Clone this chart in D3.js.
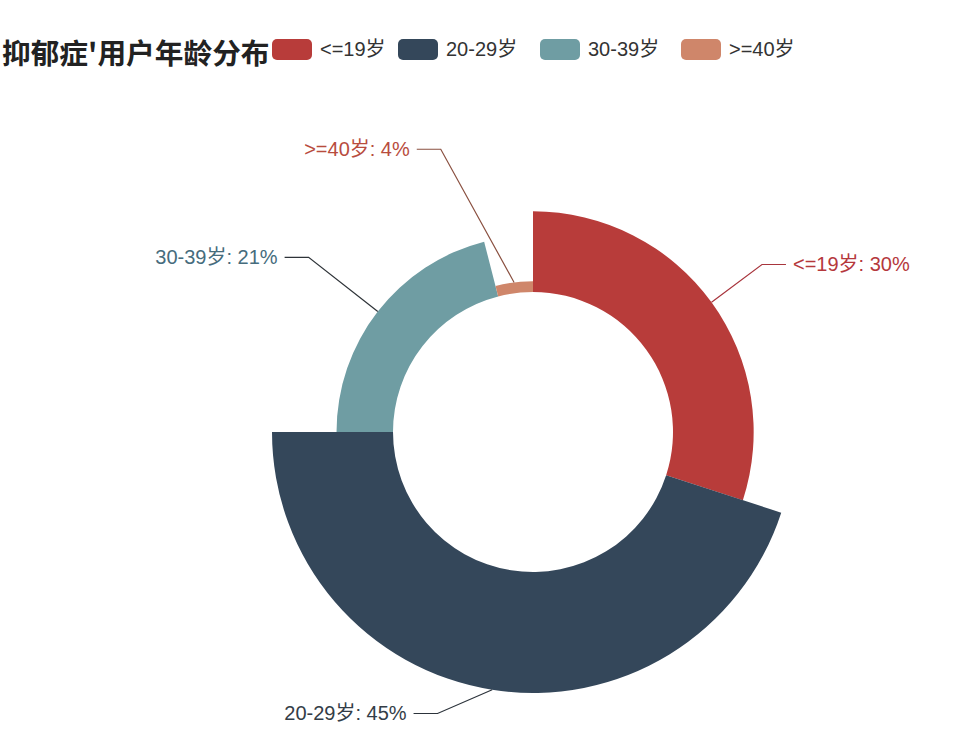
<!DOCTYPE html>
<html>
<head>
<meta charset="utf-8">
<script src="https://cdn.jsdelivr.net/npm/d3@7"></script>
<style>
  body { margin: 0; background: #fff; }
  text { font-family: "Liberation Sans", "Noto Sans CJK SC", sans-serif; }
</style>
</head>
<body>
<div id="chart"></div>
<script>
var w = 980,
	h = 740;

var title = "抑郁症'用户年龄分布";
var categories = ["<=19岁", "20-29岁", "30-39岁", ">=40岁"];
var values = [30, 45, 21, 4];
var colors = ["#b83c3a", "#34475a", "#6f9da3", "#cf866a"];
var labelColors = ["#b5383c", "#333d47", "#466c7d", "#b84c3e"];
var lineColors = ["#a8353d", "#2c333b", "#2e3338", "#8a5040"];

var cx = 533, cy = 432, r0 = 140, r1 = 261;

var svg = d3.select("#chart").append("svg").attr("width", w).attr("height", h);

// title
svg.append("text").attr("x", 2).attr("y", 64)
	.style("font-family", "'Noto Sans CJK SC', sans-serif")
	.style("font-size", "28.7px").style("font-weight", "bold").style("fill", "#222")
	.text(title);

// legend
var legendX = [272, 398, 540, 681];
var legend = svg.selectAll("g.legend").data(categories).enter().append("g")
	.attr("class", "legend")
	.attr("transform", function(d, i) { return "translate(" + legendX[i] + ",39)"; });
legend.append("rect").attr("width", 40).attr("height", 21).attr("rx", 5).attr("ry", 5)
	.style("fill", function(d, i) { return colors[i]; });
legend.append("text").attr("x", 48).attr("y", 17)
	.style("font-size", "20px").style("fill", "#333")
	.text(function(d) { return d; });

// rose pie
var total = d3.sum(values);
var pie = d3.pie().sort(null).value(function(d) { return d; });
var arcs = pie(values);
var rScale = d3.scaleLinear().domain([0, d3.max(values)]).range([r0, r1]);
var arc = d3.arc().innerRadius(r0).outerRadius(function(d) { return rScale(d.data); });

var g = svg.append("g").attr("transform", "translate(" + cx + "," + cy + ")");
g.selectAll("path.slice").data(arcs).enter().append("path")
	.attr("class", "slice")
	.attr("d", arc)
	.style("fill", function(d, i) { return colors[i]; });

// labels
var lineR = 285, RA = 276, RB = 300, len2 = 24;
arcs.forEach(function(d, i) {
	var a = (d.startAngle + d.endAngle) / 2;
	var r = rScale(d.data);
	var sx = Math.sin(a), sy = -Math.cos(a);
	var p0 = [sx * r, sy * r];
	var ey = sy * lineR;
	var ex = (sx >= 0 ? 1 : -1) * RA * Math.sqrt(Math.max(0, 1 - ey * ey / (RB * RB)));
	var dir = sx >= 0 ? 1 : -1;
	var p2 = [ex + dir * len2, ey];
	g.append("polyline")
		.attr("points", [p0, [ex, ey], p2].map(function(p) { return p.join(","); }).join(" "))
		.style("fill", "none").style("stroke", lineColors[i]).style("stroke-width", 1.2);
	g.append("text")
		.attr("x", p2[0] + dir * 7).attr("y", ey)
		.attr("dy", "0.35em")
		.attr("text-anchor", dir > 0 ? "start" : "end")
		.style("font-size", "20px").style("fill", labelColors[i])
		.text(categories[i] + ": " + Math.round(d.data / total * 100) + "%");
});
</script>
</body>
</html>
